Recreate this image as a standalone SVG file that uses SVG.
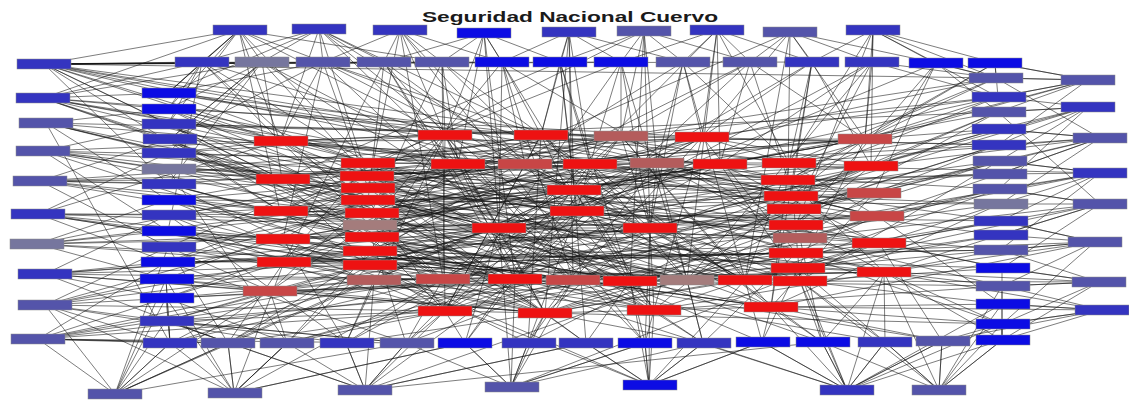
<svg xmlns="http://www.w3.org/2000/svg" width="1129" height="402" viewBox="0 0 1129 402">
<style>
.e path{fill:none;stroke:#151515;stroke-width:0.7;stroke-opacity:0.8}
#nodes rect{stroke:#8a8a8a;stroke-width:0.5}
.bb{fill:#0c0ce4}.mb{fill:#3434c0}.gb{fill:#5454aa}.gy{fill:#76769e}
.rd{fill:#ee1212}.br{fill:#c84646}.bn{fill:#b45c5c}.gr{fill:#a47c7c}
</style>
<rect width="1129" height="402" fill="#fff"/>
<g class="e" id="connectors">
<path d="M44 64 202 62M44 64 323 62M44 64 442 62M44 64 621 62M44 64 812 62M44 64 996 78M44 64 168 93M44 64 168 124M44 64 168 184M44 64 280 141M44 64 282 179M44 64 280 211M44 64 368 163M44 64 445 135M44 64 525 164M44 64 789 163M44 64 239 30M44 64 262 62M44 64 384 62M44 64 502 62M44 64 657 163"/>
<path d="M43 98 168 93M43 98 168 109M43 98 170 139M43 98 280 141M43 98 282 179M43 98 367 176M43 98 458 164M43 98 541 135M43 98 262 62M43 98 202 62M43 98 239 30M43 98 574 190M43 98 371 213"/>
<path d="M46 123 168 109M46 123 168 153M46 123 282 179M46 123 368 188M46 123 499 228M46 123 168 200M46 123 170 343M46 123 525 164M46 123 621 136"/>
<path d="M43 151 168 124M43 151 168 169M43 151 280 141M43 151 368 200M43 151 443 279M43 151 168 231M43 151 590 164M43 151 791 196M43 151 577 211M43 151 687 280"/>
<path d="M40 181 170 139M40 181 168 184M40 181 280 211M40 181 371 213M40 181 574 190M40 181 168 247M40 181 282 179M40 181 657 163M40 181 630 281M40 181 702 137"/>
<path d="M38 214 168 153M38 214 168 215M38 214 283 239M38 214 370 225M38 214 515 279M38 214 167 262M38 214 280 141M38 214 877 216M38 214 654 310M38 214 370 265"/>
<path d="M37 244 168 200M37 244 168 231M37 244 284 262M37 244 371 237M37 244 499 228M37 244 166 279M37 244 367 176M37 244 745 280M37 244 720 164"/>
<path d="M45 274 168 215M45 274 167 262M45 274 270 291M45 274 370 251M45 274 443 279M45 274 166 298M45 274 228 343M45 274 650 228M45 274 545 313M45 274 796 253"/>
<path d="M45 305 168 247M45 305 166 279M45 305 283 239M45 305 370 265M45 305 445 311M45 305 166 321M45 305 287 343M45 305 170 343M45 305 515 279M45 305 577 211"/>
<path d="M38 339 167 262M38 339 166 298M38 339 270 291M38 339 374 280M38 339 573 280M38 339 170 343M38 339 228 343M38 339 406 343M38 339 445 311M38 339 443 279"/>
<path d="M168 93 202 62M168 93 445 135M168 93 368 163M168 93 239 30M168 93 323 62M168 93 590 164M168 93 789 163"/>
<path d="M168 109 262 62M168 109 280 141M168 109 458 164M168 109 368 188M168 109 515 279M168 109 702 137"/>
<path d="M168 124 239 30M168 124 282 179M168 124 541 135M168 124 368 200M168 124 998 145M168 124 650 228M168 124 371 237"/>
<path d="M170 139 323 62M170 139 280 211M170 139 367 176M170 139 443 279M170 139 262 62M170 139 545 313M170 139 720 164"/>
<path d="M168 153 280 141M168 153 371 213M168 153 525 164M168 153 499 228M168 153 687 280M168 153 445 135"/>
<path d="M168 169 282 179M168 169 370 225M168 169 621 136M168 169 287 343M168 169 788 180M168 169 577 211M168 169 874 193"/>
<path d="M168 184 283 239M168 184 371 237M168 184 515 279M168 184 262 62M168 184 654 310M168 184 458 164"/>
<path d="M168 200 280 211M168 200 370 251M168 200 590 164M168 200 445 311M168 200 1000 204M168 200 630 281M168 200 541 135"/>
<path d="M168 215 284 262M168 215 370 265M168 215 574 190M168 215 346 343M168 215 800 238M168 215 525 164"/>
<path d="M168 231 283 239M168 231 374 280M168 231 573 280M168 231 202 62M168 231 800 281M168 231 445 311M168 231 574 190"/>
<path d="M168 247 270 291M168 247 368 163M168 247 545 313M168 247 228 343M168 247 515 279M168 247 657 163"/>
<path d="M167 262 284 262M167 262 368 188M167 262 499 228M167 262 406 343M167 262 1000 250M167 262 796 253M167 262 621 136"/>
<path d="M166 279 270 291M166 279 368 200M166 279 443 279M166 279 234 393M166 279 170 343M166 279 545 313M166 279 650 228"/>
<path d="M166 298 284 262M166 298 370 225M166 298 287 343M166 298 115 394M166 298 573 280M166 298 374 280"/>
<path d="M166 321 270 291M166 321 370 265M166 321 346 343M166 321 365 390M166 321 406 343M166 321 445 311M166 321 630 281"/>
<path d="M239 30 202 62M239 30 262 62M239 30 323 62M239 30 168 93M239 30 280 141M239 30 368 163M239 30 445 135M239 30 442 62M239 30 168 109M239 30 280 211"/>
<path d="M319 29 262 62M319 29 323 62M319 29 384 62M319 29 280 141M319 29 367 176M319 29 458 164M319 29 202 62M319 29 541 135M319 29 168 93M319 29 630 281M319 29 574 190"/>
<path d="M400 30 323 62M400 30 384 62M400 30 442 62M400 30 502 62M400 30 368 188M400 30 445 135M400 30 525 164M400 30 443 279M400 30 645 343"/>
<path d="M484 33 442 62M484 33 502 62M484 33 560 62M484 33 445 135M484 33 458 164M484 33 499 228M484 33 384 62M484 33 515 279M484 33 654 310"/>
<path d="M569 32 502 62M569 32 560 62M569 32 621 62M569 32 541 135M569 32 574 190M569 32 590 164M569 32 683 62M569 32 573 280M569 32 545 313"/>
<path d="M644 31 560 62M644 31 621 62M644 31 683 62M644 31 621 136M644 31 657 163M644 31 650 228M644 31 750 62M644 31 630 281M644 31 280 211"/>
<path d="M717 30 683 62M717 30 750 62M717 30 812 62M717 30 702 137M717 30 720 164M717 30 789 163M717 30 621 62M717 30 687 280M717 30 406 343"/>
<path d="M790 32 750 62M790 32 812 62M790 32 872 62M790 32 788 180M790 32 865 139M790 32 702 137M790 32 936 63M790 32 745 280M790 32 371 213"/>
<path d="M873 30 872 62M873 30 936 63M873 30 995 63M873 30 865 139M873 30 789 163M873 30 996 78M873 30 812 62M873 30 871 166M873 30 998 97M873 30 796 225"/>
<path d="M202 62 280 141M202 62 368 163M202 62 168 109M202 62 445 135M202 62 443 279M202 62 168 124"/>
<path d="M262 62 282 179M262 62 367 176M262 62 458 164M262 62 170 139M262 62 168 153M262 62 703 343"/>
<path d="M323 62 280 141M323 62 368 188M323 62 541 135M323 62 499 228M323 62 283 239M323 62 745 280M323 62 590 164"/>
<path d="M384 62 368 200M384 62 525 164M384 62 445 135M384 62 515 279M384 62 284 262M384 62 545 313"/>
<path d="M442 62 445 135M442 62 458 164M442 62 574 190M442 62 371 213M442 62 445 311M442 62 822 342"/>
<path d="M502 62 525 164M502 62 541 135M502 62 499 228M502 62 573 280M502 62 370 225M502 62 800 238"/>
<path d="M560 62 541 135M560 62 590 164M560 62 574 190M560 62 577 211M560 62 630 281M560 62 282 179"/>
<path d="M621 62 621 136M621 62 590 164M621 62 650 228M621 62 687 280M621 62 368 163M621 62 445 311"/>
<path d="M683 62 702 137M683 62 657 163M683 62 650 228M683 62 789 163M683 62 745 280M683 62 228 343"/>
<path d="M750 62 720 164M750 62 788 180M750 62 865 139M750 62 515 279M750 62 621 136M750 62 370 251"/>
<path d="M812 62 789 163M812 62 871 166M812 62 791 196M812 62 702 137M812 62 771 307M812 62 443 279"/>
<path d="M872 62 865 139M872 62 794 209M872 62 998 97M872 62 720 164M872 62 346 343M872 62 687 280"/>
<path d="M936 63 871 166M936 63 796 225M936 63 996 78M936 63 998 112M936 63 874 193M936 63 577 211"/>
<path d="M995 63 996 78M995 63 865 139M995 63 788 180M995 63 1088 80M995 63 998 97"/>
<path d="M170 343 270 291M170 343 374 280M170 343 166 298M170 343 443 279M170 343 115 394M170 343 166 279"/>
<path d="M228 343 284 262M228 343 370 265M228 343 445 311M228 343 115 394M228 343 234 393M228 343 38 339M228 343 574 190"/>
<path d="M287 343 270 291M287 343 370 251M287 343 515 279M287 343 445 311M287 343 234 393M287 343 874 193"/>
<path d="M346 343 374 280M346 343 443 279M346 343 545 313M346 343 365 390M346 343 283 239M346 343 445 135"/>
<path d="M406 343 443 279M406 343 445 311M406 343 371 237M406 343 573 280M406 343 365 390M406 343 166 321"/>
<path d="M465 343 445 311M465 343 515 279M465 343 499 228M465 343 511 387M465 343 234 393M465 343 590 164"/>
<path d="M528 343 545 313M528 343 573 280M528 343 577 211M528 343 511 387M528 343 370 265M528 343 541 135M528 343 794 209"/>
<path d="M586 343 545 313M586 343 630 281M586 343 574 190M586 343 649 385M586 343 365 390M586 343 368 188"/>
<path d="M645 343 654 310M645 343 630 281M645 343 650 228M645 343 649 385M645 343 511 387M645 343 445 135"/>
<path d="M703 343 654 310M703 343 687 280M703 343 796 253M703 343 649 385M703 343 657 163M703 343 284 262"/>
<path d="M762 342 771 307M762 342 745 280M762 342 798 268M762 342 847 390M762 342 649 385M762 342 367 176"/>
<path d="M822 342 800 281M822 342 771 307M822 342 884 272M822 342 847 390M822 342 800 238M822 342 499 228"/>
<path d="M885 342 884 272M885 342 800 281M885 342 798 268M885 342 847 390M885 342 939 390M885 342 283 239"/>
<path d="M942 341 879 243M942 341 771 307M942 341 1002 324M942 341 939 390M942 341 847 390M942 341 573 280"/>
<path d="M1002 340 1002 324M1002 340 884 272M1002 340 939 390M1002 340 847 390M1002 340 1002 286M1002 340 1002 268"/>
<path d="M115 394 170 343M115 394 228 343M115 394 166 321M115 394 166 279M115 394 38 339M115 394 270 291M115 394 374 280M115 394 406 343M115 394 168 247M115 394 45 305"/>
<path d="M234 393 228 343M234 393 287 343M234 393 170 343M234 393 166 298M234 393 370 265M234 393 443 279M234 393 284 262M234 393 465 343M234 393 45 305"/>
<path d="M365 390 346 343M365 390 406 343M365 390 287 343M365 390 374 280M365 390 445 311M365 390 515 279M365 390 586 343M365 390 166 321M365 390 822 342M365 390 800 238"/>
<path d="M511 387 465 343M511 387 528 343M511 387 406 343M511 387 515 279M511 387 545 313M511 387 499 228M511 387 645 343M511 387 573 280M511 387 703 343M511 387 879 243"/>
<path d="M649 385 645 343M649 385 586 343M649 385 703 343M649 385 654 310M649 385 630 281M649 385 650 228M649 385 762 342M649 385 745 280M649 385 370 265M649 385 283 239"/>
<path d="M847 390 822 342M847 390 762 342M847 390 885 342M847 390 771 307M847 390 800 281M847 390 798 268M847 390 884 272M847 390 1002 324M847 390 703 343M847 390 942 341M847 390 1002 304M847 390 371 237"/>
<path d="M939 390 942 341M939 390 885 342M939 390 1002 340M939 390 884 272M939 390 1002 304M939 390 800 281M939 390 1002 324M939 390 822 342M939 390 1002 286"/>
<path d="M996 78 865 139M996 78 789 163M996 78 936 63M996 78 1088 80M996 78 872 62M996 78 621 136M996 78 590 164"/>
<path d="M998 97 865 139M998 97 788 180M998 97 702 137M998 97 1088 80M998 97 368 163M998 97 574 190"/>
<path d="M998 112 871 166M998 112 791 196M998 112 720 164M998 112 1088 107M998 112 280 141M998 112 687 280"/>
<path d="M998 129 871 166M998 129 789 163M998 129 650 228M998 129 1100 138M998 129 367 176"/>
<path d="M998 145 874 193M998 145 794 209M998 145 657 163M998 145 1088 107M998 145 573 280M998 145 541 135"/>
<path d="M999 161 874 193M999 161 796 225M999 161 800 281M999 161 1100 173M999 161 499 228"/>
<path d="M999 174 877 216M999 174 788 180M999 174 574 190M999 174 1100 138M999 174 371 213"/>
<path d="M999 189 877 216M999 189 800 238M999 189 745 280M999 189 1100 204M999 189 525 164"/>
<path d="M1000 204 879 243M1000 204 791 196M1000 204 771 307M1000 204 1100 173M1000 204 443 279"/>
<path d="M1000 221 879 243M1000 221 796 253M1000 221 590 164M1000 221 1095 242M1000 221 280 211"/>
<path d="M1000 235 884 272M1000 235 794 209M1000 235 687 280M1000 235 1100 204M1000 235 545 313"/>
<path d="M1000 250 884 272M1000 250 798 268M1000 250 577 211M1000 250 1095 242M1000 250 284 262"/>
<path d="M1002 268 879 243M1002 268 796 225M1002 268 800 281M1002 268 1099 282M1002 268 370 251"/>
<path d="M1002 286 884 272M1002 286 800 238M1002 286 654 310M1002 286 1099 282M1002 286 630 281"/>
<path d="M1002 304 877 216M1002 304 800 281M1002 304 771 307M1002 304 1102 310"/>
<path d="M1002 324 884 272M1002 324 771 307M1002 324 796 253M1002 324 1102 310M1002 324 545 313"/>
<path d="M1088 80 996 78M1088 80 998 97M1088 80 998 112M1088 80 998 145M1088 80 865 139M1088 80 789 163M1088 80 995 63"/>
<path d="M1088 107 998 97M1088 107 998 112M1088 107 998 129M1088 107 999 161M1088 107 871 166M1088 107 791 196M1088 107 999 189"/>
<path d="M1100 138 998 129M1100 138 998 145M1100 138 999 174M1100 138 1000 204M1100 138 874 193M1100 138 794 209M1100 138 996 78M1100 138 789 163M1100 138 871 166"/>
<path d="M1100 173 999 161M1100 173 999 174M1100 173 999 189M1100 173 1000 221M1100 173 877 216M1100 173 796 225M1100 173 1000 250M1100 173 720 164"/>
<path d="M1100 204 999 189M1100 204 1000 204M1100 204 1000 235M1100 204 1002 268M1100 204 879 243M1100 204 800 238M1100 204 998 112M1100 204 745 280"/>
<path d="M1095 242 1000 221M1095 242 1000 235M1095 242 1000 250M1095 242 1002 286M1095 242 884 272M1095 242 796 253M1095 242 1002 324M1095 242 771 307"/>
<path d="M1099 282 1000 250M1099 282 1002 268M1099 282 1002 286M1099 282 1002 324M1099 282 800 281M1099 282 798 268M1099 282 1002 340"/>
<path d="M1102 310 1002 286M1102 310 1002 304M1102 310 1002 324M1102 310 1002 340M1102 310 771 307M1102 310 884 272M1102 310 942 341"/>
<path d="M280 141 445 135M280 141 368 188M280 141 525 164M280 141 788 180M282 179 368 163M282 179 499 228M282 179 443 279M282 179 702 137M280 211 371 213M280 211 458 164M280 211 445 311M280 211 871 166M283 239 371 237M283 239 574 190M283 239 515 279M283 239 794 209M284 262 370 251M284 262 443 279M284 262 590 164M284 262 879 243M270 291 374 280M270 291 545 313M270 291 499 228M270 291 687 280"/>
<path d="M280 141 370 225M280 141 630 281M280 141 577 211M280 141 865 139M280 141 545 313M282 179 370 265M282 179 657 163M282 179 796 225M282 179 654 310M280 211 367 176M280 211 621 136M280 211 745 280M280 211 798 268M283 239 368 188M283 239 720 164M283 239 771 307M283 239 874 193M284 262 368 163M284 262 541 135M284 262 800 281M284 262 650 228M270 291 368 200M270 291 458 164M270 291 573 280M270 291 791 196"/>
<path d="M368 163 541 135M368 163 458 164M368 163 789 163M368 163 800 281M367 176 590 164M367 176 574 190M367 176 865 139M368 188 621 136M368 188 577 211M368 188 630 281M368 200 657 163M368 200 650 228M368 200 791 196M371 213 515 279M371 213 702 137M371 213 874 193M370 225 499 228M370 225 687 280M370 225 796 225M371 237 445 311M371 237 720 164M371 237 800 238M370 251 573 280M370 251 577 211M370 251 877 216M370 265 545 313M370 265 745 280M370 265 796 253M374 280 443 279M374 280 654 310M374 280 884 272"/>
<path d="M368 163 577 211M368 163 573 280M368 163 771 307M368 163 879 243M367 176 445 135M367 176 745 280M367 176 800 238M367 176 545 313M368 188 525 164M368 188 654 310M368 188 871 166M368 188 800 281M368 200 541 135M368 200 687 280M368 200 445 311M368 200 798 268M371 213 590 164M371 213 650 228M371 213 545 313M371 213 789 163M370 225 702 137M370 225 657 163M370 225 443 279M370 225 865 139M371 237 574 190M371 237 630 281M371 237 621 136M371 237 884 272M370 251 458 164M370 251 771 307M370 251 788 180M370 251 445 135M370 265 499 228M370 265 720 164M370 265 871 166M370 265 515 279M374 280 574 190M374 280 745 280M374 280 794 209M374 280 702 137"/>
<path d="M445 135 458 164M445 135 574 190M445 135 573 280M541 135 525 164M541 135 577 211M541 135 788 180M621 136 590 164M621 136 650 228M621 136 745 280M702 137 657 163M702 137 789 163M702 137 871 166M458 164 499 228M458 164 515 279M458 164 791 196M525 164 574 190M525 164 654 310M525 164 874 193M590 164 577 211M590 164 687 280M590 164 794 209M657 163 650 228M657 163 443 279M657 163 877 216M720 164 788 180M720 164 800 281M720 164 577 211"/>
<path d="M445 135 443 279M445 135 791 196M445 135 499 228M445 135 545 313M541 135 687 280M541 135 445 311M541 135 877 216M541 135 650 228M621 136 574 190M621 136 771 307M621 136 796 225M621 136 515 279M702 137 573 280M702 137 577 211M702 137 796 253M702 137 654 310M458 164 654 310M458 164 884 272M458 164 650 228M525 164 745 280M525 164 796 253M525 164 445 311M590 164 443 279M590 164 865 139M590 164 771 307M657 163 515 279M657 163 800 238M657 163 545 313M720 164 445 311M720 164 879 243M720 164 499 228"/>
<path d="M574 190 630 281M574 190 445 311M574 190 796 225M574 190 865 139M577 211 515 279M577 211 771 307M577 211 879 243M499 228 573 280M499 228 545 313M499 228 800 238M650 228 745 280M650 228 654 310M650 228 871 166M443 279 545 313M443 279 798 268M515 279 654 310M573 280 445 311M573 280 884 272M630 281 771 307M687 280 796 253M687 280 445 311M745 280 879 243M745 280 545 313M800 281 794 209M445 311 800 238M545 313 877 216M654 310 791 196M771 307 874 193"/>
<path d="M574 190 800 281M574 190 654 310M574 190 650 228M577 211 745 280M577 211 798 268M577 211 445 311M499 228 687 280M499 228 877 216M499 228 650 228M650 228 515 279M650 228 794 209M650 228 545 313M443 279 796 225M443 279 874 193M515 279 788 180M515 279 884 272M573 280 796 253M573 280 771 307M630 281 871 166M630 281 445 311M687 280 877 216M687 280 545 313M745 280 789 163M745 280 654 310M445 311 871 166M445 311 545 313M545 313 796 225M545 313 771 307M654 310 884 272M771 307 789 163"/>
<path d="M789 163 871 166M788 180 865 139M791 196 877 216M794 209 874 193M796 225 884 272M800 238 879 243M796 253 877 216M798 268 879 243M865 139 574 190M871 166 573 280M874 193 445 135M877 216 525 164M879 243 630 281M884 272 499 228M789 163 877 216M788 180 884 272M791 196 865 139M794 209 879 243M796 225 871 166M800 238 874 193M796 253 884 272M798 268 865 139"/>
</g>
<g id="nodes">
<g id="T1"><rect x="213" y="25" width="54" height="10" class="mb"/></g>
<g id="T2"><rect x="292" y="24" width="54" height="10" class="mb"/></g>
<g id="T3"><rect x="373" y="25" width="54" height="10" class="mb"/></g>
<g id="T4"><rect x="457" y="28" width="54" height="10" class="bb"/></g>
<g id="T5"><rect x="542" y="27" width="54" height="10" class="mb"/></g>
<g id="T6"><rect x="617" y="26" width="54" height="10" class="gb"/></g>
<g id="T7"><rect x="690" y="25" width="54" height="10" class="mb"/></g>
<g id="T8"><rect x="763" y="27" width="54" height="10" class="gb"/></g>
<g id="T9"><rect x="846" y="25" width="54" height="10" class="mb"/></g>
<g id="R1"><rect x="175" y="57" width="54" height="10" class="mb"/></g>
<g id="R2"><rect x="235" y="57" width="54" height="10" class="gy"/></g>
<g id="R3"><rect x="296" y="57" width="54" height="10" class="gb"/></g>
<g id="R4"><rect x="357" y="57" width="54" height="10" class="gb"/></g>
<g id="R5"><rect x="415" y="57" width="54" height="10" class="gb"/></g>
<g id="R6"><rect x="475" y="57" width="54" height="10" class="bb"/></g>
<g id="R7"><rect x="533" y="57" width="54" height="10" class="bb"/></g>
<g id="R8"><rect x="594" y="57" width="54" height="10" class="bb"/></g>
<g id="R9"><rect x="656" y="57" width="54" height="10" class="gb"/></g>
<g id="R10"><rect x="723" y="57" width="54" height="10" class="gb"/></g>
<g id="R11"><rect x="785" y="57" width="54" height="10" class="mb"/></g>
<g id="R12"><rect x="845" y="57" width="54" height="10" class="mb"/></g>
<g id="R13"><rect x="909" y="58" width="54" height="10" class="bb"/></g>
<g id="R14"><rect x="968" y="58" width="54" height="10" class="bb"/></g>
<g id="L1"><rect x="17" y="59" width="54" height="10" class="mb"/></g>
<g id="L2"><rect x="16" y="93" width="54" height="10" class="mb"/></g>
<g id="L3"><rect x="19" y="118" width="54" height="10" class="gb"/></g>
<g id="L4"><rect x="16" y="146" width="54" height="10" class="gb"/></g>
<g id="L5"><rect x="13" y="176" width="54" height="10" class="gb"/></g>
<g id="L6"><rect x="11" y="209" width="54" height="10" class="mb"/></g>
<g id="L7"><rect x="10" y="239" width="54" height="10" class="gy"/></g>
<g id="L8"><rect x="18" y="269" width="54" height="10" class="mb"/></g>
<g id="L9"><rect x="18" y="300" width="54" height="10" class="gb"/></g>
<g id="L10"><rect x="11" y="334" width="54" height="10" class="gb"/></g>
<g id="M1"><rect x="142" y="88" width="54" height="10" class="bb"/></g>
<g id="M2"><rect x="142" y="104" width="54" height="10" class="bb"/></g>
<g id="M3"><rect x="142" y="119" width="54" height="10" class="mb"/></g>
<g id="M4"><rect x="143" y="134" width="54" height="10" class="mb"/></g>
<g id="M5"><rect x="142" y="148" width="54" height="10" class="mb"/></g>
<g id="M6"><rect x="142" y="164" width="54" height="10" class="gy"/></g>
<g id="M7"><rect x="142" y="179" width="54" height="10" class="mb"/></g>
<g id="M8"><rect x="142" y="195" width="54" height="10" class="bb"/></g>
<g id="M9"><rect x="142" y="210" width="54" height="10" class="mb"/></g>
<g id="M10"><rect x="142" y="226" width="54" height="10" class="bb"/></g>
<g id="M11"><rect x="142" y="242" width="54" height="10" class="mb"/></g>
<g id="M12"><rect x="141" y="257" width="54" height="10" class="bb"/></g>
<g id="M13"><rect x="140" y="274" width="54" height="10" class="bb"/></g>
<g id="M14"><rect x="140" y="293" width="54" height="10" class="bb"/></g>
<g id="M15"><rect x="140" y="316" width="54" height="10" class="mb"/></g>
<g id="B1"><rect x="143" y="338" width="54" height="10" class="mb"/></g>
<g id="B2"><rect x="201" y="338" width="54" height="10" class="gb"/></g>
<g id="B3"><rect x="260" y="338" width="54" height="10" class="gb"/></g>
<g id="B4"><rect x="320" y="338" width="54" height="10" class="mb"/></g>
<g id="B5"><rect x="380" y="338" width="54" height="10" class="gb"/></g>
<g id="B6"><rect x="438" y="338" width="54" height="10" class="bb"/></g>
<g id="B7"><rect x="502" y="338" width="54" height="10" class="mb"/></g>
<g id="B8"><rect x="559" y="338" width="54" height="10" class="mb"/></g>
<g id="B9"><rect x="618" y="338" width="54" height="10" class="bb"/></g>
<g id="B10"><rect x="677" y="338" width="54" height="10" class="mb"/></g>
<g id="B11"><rect x="736" y="337" width="54" height="10" class="bb"/></g>
<g id="B12"><rect x="796" y="337" width="54" height="10" class="bb"/></g>
<g id="B13"><rect x="858" y="337" width="54" height="10" class="mb"/></g>
<g id="B14"><rect x="916" y="336" width="54" height="10" class="gb"/></g>
<g id="B15"><rect x="976" y="335" width="54" height="10" class="bb"/></g>
<g id="D1"><rect x="88" y="389" width="54" height="10" class="gb"/></g>
<g id="D2"><rect x="208" y="388" width="54" height="10" class="gb"/></g>
<g id="D3"><rect x="338" y="385" width="54" height="10" class="gb"/></g>
<g id="D4"><rect x="485" y="382" width="54" height="10" class="gb"/></g>
<g id="D5"><rect x="623" y="380" width="54" height="10" class="bb"/></g>
<g id="D6"><rect x="820" y="385" width="54" height="10" class="mb"/></g>
<g id="D7"><rect x="912" y="385" width="54" height="10" class="gb"/></g>
<g id="Q1"><rect x="969" y="73" width="54" height="10" class="gb"/></g>
<g id="Q2"><rect x="972" y="92" width="54" height="10" class="mb"/></g>
<g id="Q3"><rect x="972" y="107" width="54" height="10" class="gb"/></g>
<g id="Q4"><rect x="972" y="124" width="54" height="10" class="mb"/></g>
<g id="Q5"><rect x="972" y="140" width="54" height="10" class="mb"/></g>
<g id="Q6"><rect x="973" y="156" width="54" height="10" class="gb"/></g>
<g id="Q7"><rect x="973" y="169" width="54" height="10" class="gb"/></g>
<g id="Q8"><rect x="973" y="184" width="54" height="10" class="gb"/></g>
<g id="Q9"><rect x="974" y="199" width="54" height="10" class="gy"/></g>
<g id="Q10"><rect x="974" y="216" width="54" height="10" class="mb"/></g>
<g id="Q11"><rect x="974" y="230" width="54" height="10" class="mb"/></g>
<g id="Q12"><rect x="974" y="245" width="54" height="10" class="gb"/></g>
<g id="Q13"><rect x="976" y="263" width="54" height="10" class="bb"/></g>
<g id="Q14"><rect x="976" y="281" width="54" height="10" class="gb"/></g>
<g id="Q15"><rect x="976" y="299" width="54" height="10" class="bb"/></g>
<g id="Q16"><rect x="976" y="319" width="54" height="10" class="bb"/></g>
<g id="F1"><rect x="1061" y="75" width="54" height="10" class="gb"/></g>
<g id="F2"><rect x="1061" y="102" width="54" height="10" class="mb"/></g>
<g id="F3"><rect x="1073" y="133" width="54" height="10" class="gb"/></g>
<g id="F4"><rect x="1073" y="168" width="54" height="10" class="mb"/></g>
<g id="F5"><rect x="1073" y="199" width="54" height="10" class="gb"/></g>
<g id="F6"><rect x="1068" y="237" width="54" height="10" class="gb"/></g>
<g id="F7"><rect x="1072" y="277" width="54" height="10" class="gb"/></g>
<g id="F8"><rect x="1075" y="305" width="54" height="10" class="mb"/></g>
<g id="A1"><rect x="254" y="136" width="54" height="10" class="rd"/></g>
<g id="A2"><rect x="256" y="174" width="54" height="10" class="rd"/></g>
<g id="A3"><rect x="254" y="206" width="54" height="10" class="rd"/></g>
<g id="A4"><rect x="256" y="234" width="54" height="10" class="rd"/></g>
<g id="A5"><rect x="257" y="257" width="54" height="10" class="rd"/></g>
<g id="A6"><rect x="243" y="286" width="54" height="10" class="br"/></g>
<g id="C1"><rect x="341" y="158" width="54" height="10" class="rd"/></g>
<g id="C2"><rect x="340" y="171" width="54" height="10" class="rd"/></g>
<g id="C3"><rect x="341" y="183" width="54" height="10" class="rd"/></g>
<g id="C4"><rect x="341" y="195" width="54" height="10" class="rd"/></g>
<g id="C5"><rect x="345" y="208" width="54" height="10" class="rd"/></g>
<g id="C6"><rect x="343" y="220" width="54" height="10" class="gr"/></g>
<g id="C7"><rect x="345" y="232" width="54" height="10" class="rd"/></g>
<g id="C8"><rect x="343" y="246" width="54" height="10" class="rd"/></g>
<g id="C9"><rect x="343" y="260" width="54" height="10" class="rd"/></g>
<g id="C10"><rect x="347" y="275" width="54" height="10" class="bn"/></g>
<g id="U1"><rect x="418" y="130" width="54" height="10" class="rd"/></g>
<g id="U2"><rect x="514" y="130" width="54" height="10" class="rd"/></g>
<g id="U3"><rect x="594" y="131" width="54" height="10" class="bn"/></g>
<g id="U4"><rect x="675" y="132" width="54" height="10" class="rd"/></g>
<g id="V1"><rect x="431" y="159" width="54" height="10" class="rd"/></g>
<g id="V2"><rect x="498" y="159" width="54" height="10" class="br"/></g>
<g id="V3"><rect x="563" y="159" width="54" height="10" class="rd"/></g>
<g id="V4"><rect x="630" y="158" width="54" height="10" class="bn"/></g>
<g id="V5"><rect x="693" y="159" width="54" height="10" class="rd"/></g>
<g id="W1"><rect x="547" y="185" width="54" height="10" class="rd"/></g>
<g id="W2"><rect x="550" y="206" width="54" height="10" class="rd"/></g>
<g id="W3"><rect x="472" y="223" width="54" height="10" class="rd"/></g>
<g id="W4"><rect x="623" y="223" width="54" height="10" class="rd"/></g>
<g id="X1"><rect x="416" y="274" width="54" height="10" class="br"/></g>
<g id="X2"><rect x="488" y="274" width="54" height="10" class="rd"/></g>
<g id="X3"><rect x="546" y="275" width="54" height="10" class="br"/></g>
<g id="X4"><rect x="603" y="276" width="54" height="10" class="rd"/></g>
<g id="X5"><rect x="660" y="275" width="54" height="10" class="gr"/></g>
<g id="X6"><rect x="718" y="275" width="54" height="10" class="rd"/></g>
<g id="X7"><rect x="773" y="276" width="54" height="10" class="rd"/></g>
<g id="Y1"><rect x="418" y="306" width="54" height="10" class="rd"/></g>
<g id="Y2"><rect x="518" y="308" width="54" height="10" class="rd"/></g>
<g id="Y3"><rect x="627" y="305" width="54" height="10" class="rd"/></g>
<g id="Y4"><rect x="744" y="302" width="54" height="10" class="rd"/></g>
<g id="E1"><rect x="762" y="158" width="54" height="10" class="rd"/></g>
<g id="E2"><rect x="761" y="175" width="54" height="10" class="rd"/></g>
<g id="E3"><rect x="764" y="191" width="54" height="10" class="rd"/></g>
<g id="E4"><rect x="767" y="204" width="54" height="10" class="rd"/></g>
<g id="E5"><rect x="769" y="220" width="54" height="10" class="rd"/></g>
<g id="E6"><rect x="773" y="233" width="54" height="10" class="bn"/></g>
<g id="E7"><rect x="769" y="248" width="54" height="10" class="rd"/></g>
<g id="E8"><rect x="771" y="263" width="54" height="10" class="rd"/></g>
<g id="G1"><rect x="838" y="134" width="54" height="10" class="br"/></g>
<g id="G2"><rect x="844" y="161" width="54" height="10" class="rd"/></g>
<g id="G3"><rect x="847" y="188" width="54" height="10" class="br"/></g>
<g id="G4"><rect x="850" y="211" width="54" height="10" class="br"/></g>
<g id="G5"><rect x="852" y="238" width="54" height="10" class="rd"/></g>
<g id="G6"><rect x="857" y="267" width="54" height="10" class="rd"/></g>
</g>
<text x="570" y="22" text-anchor="middle" font-family="'Liberation Sans', Arial, sans-serif" font-weight="bold" font-size="14.5" fill="#1a1a1a" textLength="296" lengthAdjust="spacingAndGlyphs">Seguridad Nacional Cuervo</text>
</svg>
